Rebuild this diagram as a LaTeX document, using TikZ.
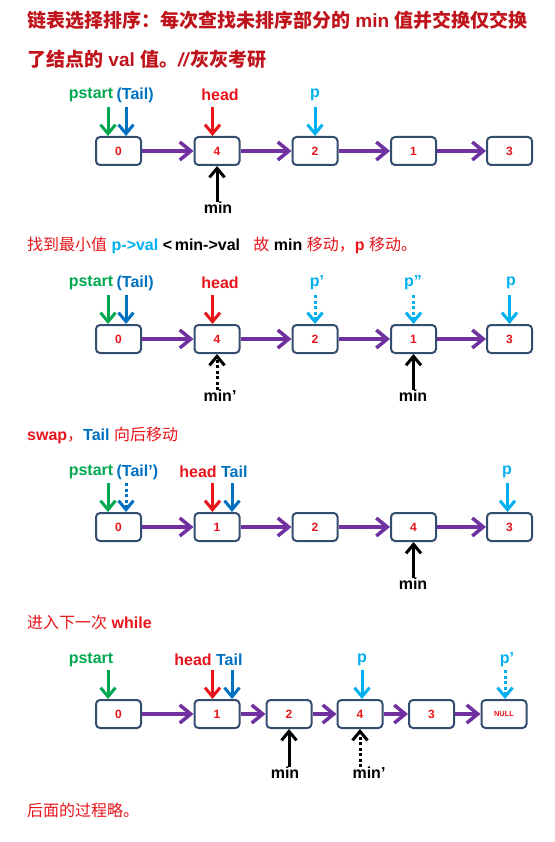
\documentclass[tikz,border=0pt]{standalone}
\usepackage{fontspec}
\setmainfont{Liberation Sans}
\newfontfamily\cjk{Noto Sans CJK SC}
\usepackage{tikz}
\usetikzlibrary{arrows.meta,positioning,calc}

\definecolor{titlered}{RGB}{192,20,28}
\definecolor{headred}{RGB}{232,20,26}
\definecolor{pgreen}{RGB}{0,168,80}
\definecolor{tblue}{RGB}{0,112,192}
\definecolor{pblue}{RGB}{0,176,240}
\definecolor{linkpurple}{RGB}{112,48,160}
\definecolor{boxline}{RGB}{52,76,110}

\tikzset{
  cell/.style={draw=boxline,line width=2pt,rounded corners=4pt,fill=white,
    minimum width=45pt,minimum height=28pt,inner sep=0pt,
    text=headred,font=\bfseries\fontsize{12}{12}\selectfont},
  link/.style={draw=linkpurple,line width=3.5pt,-{Straight Barb[length=11pt,width=18pt]}},
  ptr/.style={line width=3pt,-{Straight Barb[length=9pt,width=15pt]}},
  ghost/.style={ptr,dash pattern=on 3pt off 2.5pt},
  lbl/.style={inner sep=0pt,font=\bfseries\fontsize{16}{16}\selectfont},
  heading/.style={anchor=west,inner sep=0pt,text=headred,font=\fontsize{16}{16}\selectfont},
}

\begin{document}
\begin{tikzpicture}[x=1pt,y=-1pt]
\useasboundingbox (0,0) rectangle (554,842);

% title
\node[anchor=west,inner sep=0pt,text=titlered,font=\fontsize{19}{19}\selectfont] (t1) at (27,20)
  {{\cjk\bfseries 链表选择排序：每次查找未排序部分的} \textbf{min} {\cjk\bfseries 值并交换仅交换}};
\node[anchor=west,inner sep=0pt,text=titlered,font=\fontsize{19}{19}\selectfont] (t2) at (27,59)
  {{\cjk\bfseries 了结点的} \textbf{val} {\cjk\bfseries 值。}\textbf{\textit{//}}{\cjk\bfseries 灰灰考研}};

% first pass
\foreach \v/\x [count=\i] in {0/118.5,4/217,2/315,1/413.5,3/509.5}
  \node[cell] (a\i) at (\x,151) {\v};
\foreach \i in {2,...,5}{
  \pgfmathtruncatemacro\j{\i-1}
  \draw[link] (a\j) -- (a\i);
}
\node[lbl,text=pgreen] (ps1) at (91,95) {pstart};
\node[lbl,text=tblue,right=3pt of ps1] (tl1) {(Tail)};
\node[lbl,text=headred] (hd1) at (220,95) {head};
\node[lbl,text=pblue] (p1) at (315,95) {p};
\node[lbl] (mn1) at (218,208) {min};
\draw[ptr,pgreen] ($(a1.north)+(-10.5,-29)$) -- ++(0,29);
\draw[ptr,tblue] ($(a1.north)+(7.5,-29)$) -- ++(0,29);
\draw[ptr,headred] ($(a2.north)+(-4.5,-29)$) -- ++(0,29);
\draw[ptr,pblue] ($(a3.north)+(0,-29)$) -- ++(0,29);
\draw[ptr] (a2 |- mn1.north) -- (a2.south);

% second pass
\node[heading] (h2) at (27,245) {{\cjk 找到最小值}\ \textbf{\textcolor{pblue}{p->val}} \textbf{\textcolor{black}{<\,min->val}} \ \ {\cjk 故}\ \textbf{\textcolor{black}{min}}\ {\cjk 移动，}\textbf{p}\ {\cjk 移动。}};
\foreach \v/\x [count=\i] in {0/118.5,4/217,2/315,1/413.5,3/509.5}
  \node[cell] (b\i) at (\x,339) {\v};
\foreach \i in {2,...,5}{
  \pgfmathtruncatemacro\j{\i-1}
  \draw[link] (b\j) -- (b\i);
}
\node[lbl,text=pgreen] (ps2) at (91,283) {pstart};
\node[lbl,text=tblue,right=3pt of ps2] (tl2) {(Tail)};
\node[lbl,text=headred] (hd2) at (220,283) {head};
\node[lbl,text=pblue] (p2a) at (317,283) {p'};
\node[lbl,text=pblue] (p2b) at (413,283) {p''};
\node[lbl,text=pblue] (p2) at (511,283) {p};
\node[lbl] (mn2a) at (220,396) {min'};
\node[lbl] (mn2) at (413,396) {min};
\draw[ptr,pgreen] ($(b1.north)+(-10.5,-29)$) -- ++(0,29);
\draw[ptr,tblue] ($(b1.north)+(7.5,-29)$) -- ++(0,29);
\draw[ptr,headred] ($(b2.north)+(-4.5,-29)$) -- ++(0,29);
\draw[ghost,pblue] ($(b3.north)+(0,-29)$) -- ++(0,29);
\draw[ghost,pblue] ($(b4.north)+(0,-29)$) -- ++(0,29);
\draw[ptr,pblue] ($(b5.north)+(0,-29)$) -- ++(0,29);
\draw[ghost] (b2 |- mn2a.north) -- (b2.south);
\draw[ptr] (b4 |- mn2.north) -- (b4.south);

% swap
\node[heading] (h3) at (27,435) {\textbf{swap}{\cjk ，}\textbf{\textcolor{tblue}{Tail}} {\cjk 向后移动}};
\foreach \v/\x [count=\i] in {0/118.5,1/217,2/315,4/413.5,3/509.5}
  \node[cell] (c\i) at (\x,527) {\v};
\foreach \i in {2,...,5}{
  \pgfmathtruncatemacro\j{\i-1}
  \draw[link] (c\j) -- (c\i);
}
\node[lbl,text=pgreen] (ps3) at (91,472) {pstart};
\node[lbl,text=tblue,right=3pt of ps3] (tl3a) {(Tail')};
\node[lbl,text=headred] (hd3) at (198,472) {head};
\node[lbl,text=tblue,right=4pt of hd3] (tl3) {Tail};
\node[lbl,text=pblue] (p3) at (507,472) {p};
\node[lbl] (mn3) at (413,584) {min};
\draw[ptr,pgreen] ($(c1.north)+(-10.5,-29)$) -- ++(0,29);
\draw[ghost,tblue] ($(c1.north)+(7.5,-29)$) -- ++(0,29);
\draw[ptr,headred] ($(c2.north)+(-4.5,-29)$) -- ++(0,29);
\draw[ptr,tblue] ($(c2.north)+(15,-29)$) -- ++(0,29);
\draw[ptr,pblue] ($(c5.north)+(-2,-29)$) -- ++(0,29);
\draw[ptr] (c4 |- mn3.north) -- (c4.south);

% next while
\node[heading] (h4) at (27,622) {{\cjk 进入下一次} \textbf{while}};
\foreach \v/\x [count=\i] in {0/118.5,1/217,2/289,4/360,3/431.5,{\fontsize{7.5}{7.5}\selectfont NULL}/504}
  \node[cell] (d\i) at (\x,714) {\v};
\foreach \i in {2,...,6}{
  \pgfmathtruncatemacro\j{\i-1}
  \draw[link] (d\j) -- (d\i);
}
\node[lbl,text=pgreen] (ps4) at (91,660) {pstart};
\node[lbl,text=headred] (hd4) at (193,660) {head};
\node[lbl,text=tblue,right=4pt of hd4] (tl4) {Tail};
\node[lbl,text=pblue] (p4) at (362,660) {p};
\node[lbl,text=pblue] (p4a) at (507,660) {p'};
\node[lbl] (mn4) at (285,773) {min};
\node[lbl] (mn4a) at (369,773) {min'};
\draw[ptr,pgreen] ($(d1.north)+(-10.5,-29)$) -- ++(0,29);
\draw[ptr,headred] ($(d2.north)+(-4.5,-29)$) -- ++(0,29);
\draw[ptr,tblue] ($(d2.north)+(15,-29)$) -- ++(0,29);
\draw[ptr,pblue] ($(d4.north)+(2,-29)$) -- ++(0,29);
\draw[ghost,pblue] ($(d6.north)+(1,-29)$) -- ++(0,29);
\draw[ptr] (d3 |- mn4.north) -- (d3.south);
\draw[ghost] (d4 |- mn4a.north) -- (d4.south);

\node[heading] (h5) at (27,810) {\cjk 后面的过程略。};
\end{tikzpicture}
\end{document}
